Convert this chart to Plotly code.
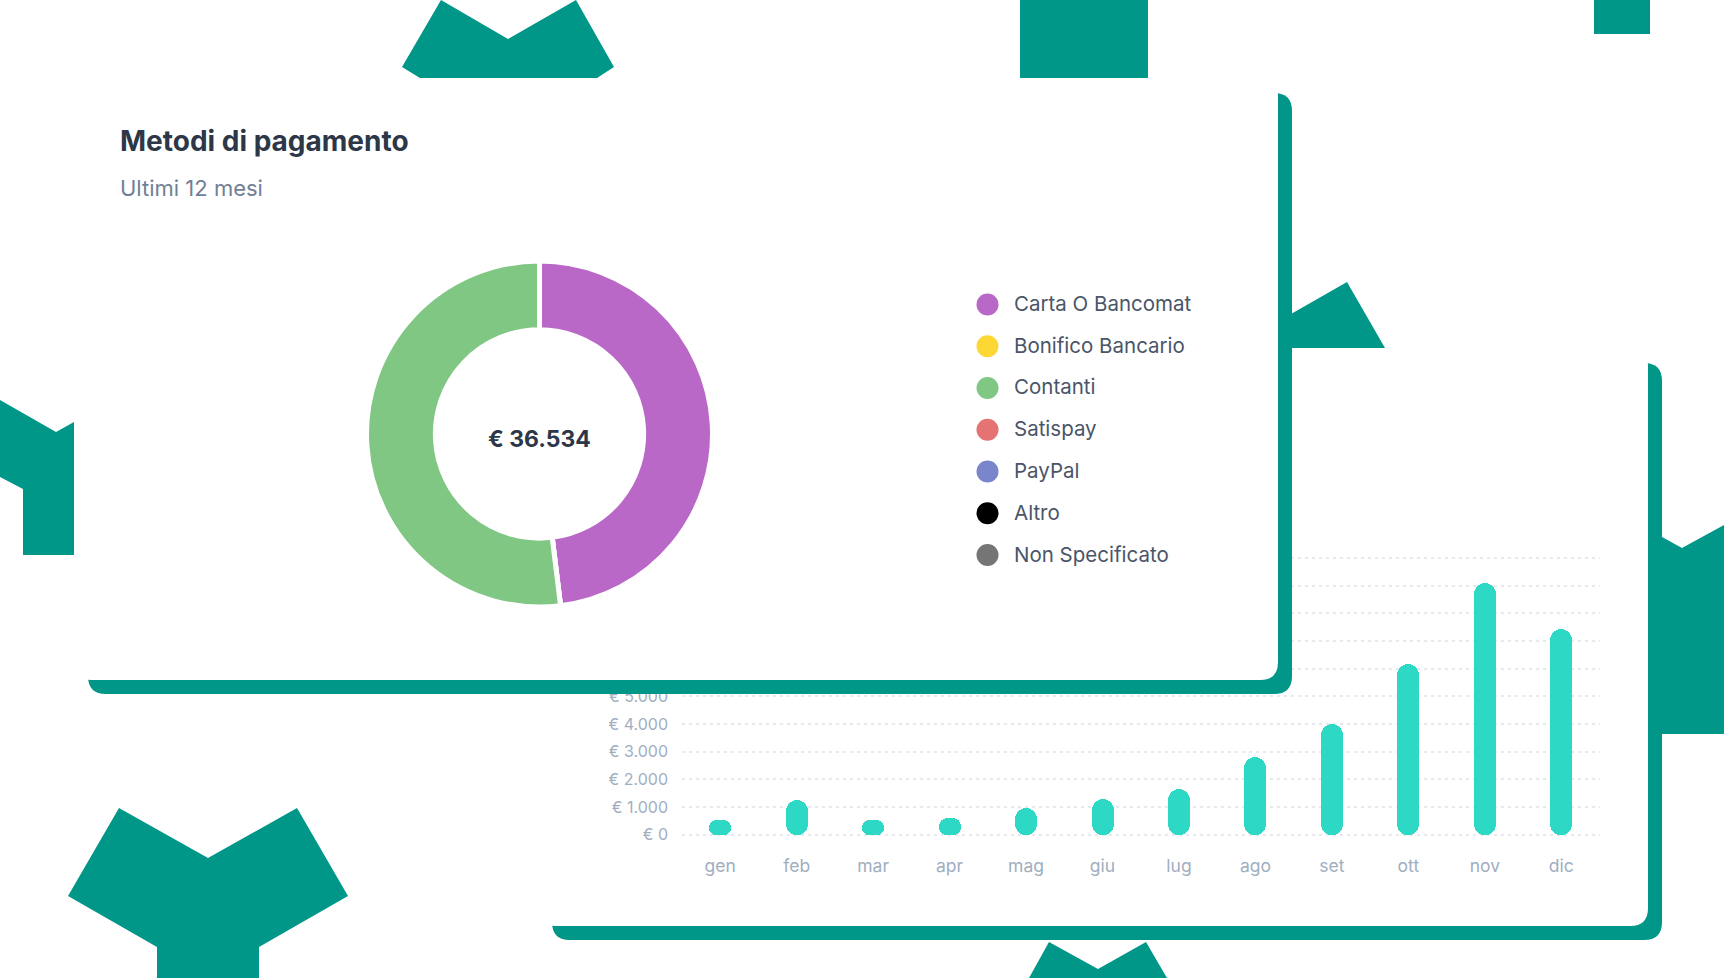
import plotly.graph_objects as go

W = 1724
H = 978
TEAL = "#009688"

# donut
methods = ["Carta O Bancomat", "Bonifico Bancario", "Contanti", "Satispay", "PayPal", "Altro", "Non Specificato"]
method_values = [17557, 0, 18977, 0, 0, 0, 0]
method_colors = ["#ba68c8", "#fdd835", "#81c784", "#e57373", "#7986cb", "#000000", "#757575"]

# monthly bars
months = ["gen", "feb", "mar", "apr", "mag", "giu", "lug", "ago", "set", "ott", "nov", "dic"]
month_values = [542, 1265, 518, 614, 952, 1289, 1639, 2807, 3976, 6157, 9072, 7434]
y_ticks = [0, 1000, 2000, 3000, 4000, 5000, 6000, 7000, 8000, 9000, 10000]
y_labels = ["€ 0", "€ 1.000", "€ 2.000", "€ 3.000", "€ 4.000", "€ 5.000", "€ 6.000", "€ 7.000", "€ 8.000", "€ 9.000", "€ 10.000"]

# teal decorations around the cards, in page pixels
decorations = [
    [(441, 0), (508, 39), (576, 0), (614, 67), (597, 78), (420, 78), (402, 67)],
    [(1020, 0), (1148, 0), (1148, 78), (1020, 78)],
    [(1594, 0), (1650, 0), (1650, 34), (1594, 34)],
    [(0, 400), (56, 432), (74, 422), (74, 555), (23, 555), (23, 489), (0, 477)],
    [(1291, 314), (1347, 282), (1385, 348), (1291, 348)],
    [(1662, 537), (1682, 548), (1724, 525), (1724, 734), (1662, 734)],
    [(119, 808), (208, 858), (297, 808), (348, 896), (259, 947), (259, 978), (157, 978), (157, 947), (68, 896)],
    [(1049, 942), (1098, 969), (1146, 942), (1167, 978), (1029, 978)],
]


def px_x(x):
    return x / W


def px_y(y):
    return 1 - y / H


def polygon(points):
    return "M" + " L".join(f"{px_x(x)},{px_y(y)}" for x, y in points) + " Z"


def rounded(x0, y0, x1, y1, r, fx=lambda v: v, fy=lambda v: v):
    return (f"M{fx(x0 + r)},{fy(y0)} L{fx(x1 - r)},{fy(y0)} Q{fx(x1)},{fy(y0)} {fx(x1)},{fy(y0 + r)} L{fx(x1)},{fy(y1 - r)} "
            f"Q{fx(x1)},{fy(y1)} {fx(x1 - r)},{fy(y1)} L{fx(x0 + r)},{fy(y1)} Q{fx(x0)},{fy(y1)} {fx(x0)},{fy(y1 - r)} "
            f"L{fx(x0)},{fy(y0 + r)} Q{fx(x0)},{fy(y0)} {fx(x0 + r)},{fy(y0)} Z")


fig = go.Figure()

# an explicit base makes plotly round both ends of a bar
fig.add_trace(go.Bar(
    x=months, y=month_values, base=[0] * len(months), width=0.288,
    marker=dict(color="#2dd9c5", line=dict(width=0), cornerradius=11),
    hoverinfo="skip",
))

# full page subplot that only holds the front card, it paints over the bar axis labels
fig.add_trace(go.Scatter(x=[0], y=[0], xaxis="x2", yaxis="y2", mode="markers", marker=dict(opacity=0), hoverinfo="skip"))

fig.add_trace(go.Pie(
    labels=methods, values=method_values, hole=0.602, sort=False, direction="clockwise", rotation=0,
    marker=dict(colors=method_colors, line=dict(color="white", width=5)),
    textinfo="none", hoverinfo="skip",
    domain=dict(x=[px_x(539.5 - 173), px_x(539.5 + 173)], y=[px_y(434 + 173), px_y(434 - 173)]),
))

fig.add_trace(go.Scatter(
    x=[0] * len(methods), y=methods, xaxis="x3", yaxis="y3", mode="markers",
    marker=dict(color=method_colors, size=22, line=dict(width=0)), hoverinfo="skip", cliponaxis=False,
))

# decorations and back card sit under everything
shapes = [dict(type="path", xref="paper", yref="paper", layer="below", fillcolor=TEAL, line_width=0, path=polygon(p)) for p in decorations]
shapes.append(dict(type="path", xref="paper", yref="paper", layer="below", fillcolor=TEAL, line_width=0,
                   path=rounded(552, 363, 1662, 940, 18, px_x, px_y)))
shapes.append(dict(type="path", xref="paper", yref="paper", layer="below", fillcolor="white", line_width=0,
                   path=rounded(538, 348, 1648, 926, 18, px_x, px_y)))
# front card sits over the bar chart axes
shapes.append(dict(type="path", xref="x2", yref="y2", layer="below", fillcolor=TEAL, line_width=0, path=rounded(88, 93, 1292, 694, 18)))
shapes.append(dict(type="path", xref="x2", yref="y2", layer="below", fillcolor="white", line_width=0, path=rounded(74, 78, 1278, 680, 18)))

annotations = [
    dict(text="<b>Metodi di pagamento</b>", x=px_x(118), y=px_y(141), xref="paper", yref="paper", xanchor="left", yanchor="middle",
         showarrow=False, font=dict(family="Inter", size=28, color="#2d3748")),
    dict(text="Ultimi 12 mesi", x=px_x(118), y=px_y(188), xref="paper", yref="paper", xanchor="left", yanchor="middle",
         showarrow=False, font=dict(family="Inter", size=22, color="#718096")),
    dict(text="<b>€ 36.534</b>", x=px_x(539), y=px_y(439), xref="paper", yref="paper", xanchor="center", yanchor="middle",
         showarrow=False, font=dict(family="Inter", size=23, color="#2d3748")),
]
for name in methods:
    annotations.append(dict(text=name, x=1, y=name, xref="x3", yref="y3", xanchor="left", yanchor="middle", showarrow=False,
                            yshift=1, font=dict(family="Inter", size=20.5, color="#4a5568")))

fig.update_layout(
    width=W, height=H, margin=dict(l=0, r=0, t=0, b=0, pad=0), autosize=False,
    paper_bgcolor="white", plot_bgcolor="rgba(0,0,0,0)", showlegend=False,
    barmode="overlay", bargap=0, shapes=shapes, annotations=annotations,
    xaxis=dict(domain=[px_x(682), px_x(1599.5)], anchor="y", type="category", categoryorder="array", categoryarray=months,
               range=[-0.5, 11.5], showgrid=False, zeroline=False, showline=False, ticks="", automargin=False,
               ticklabelstandoff=16, tickfont=dict(family="Inter", size=17.5, color="#a0aec0")),
    # the range runs a little past 0 and 10000 so the outer grid lines are drawn
    yaxis=dict(domain=[px_y(837.5), px_y(555.2)], anchor="x", range=[-100, 10100], tickvals=y_ticks, ticktext=y_labels,
               showgrid=True, gridcolor="#e6e9ee", gridwidth=1.5, griddash="3px 4px", zeroline=False, showline=False, ticks="", automargin=False,
               ticklabelstandoff=13, tickfont=dict(family="Inter", size=16, color="#a0aec0")),
    xaxis2=dict(domain=[0, 1], anchor="y2", range=[0, W], visible=False, fixedrange=True, automargin=False),
    yaxis2=dict(domain=[0, 1], anchor="x2", range=[H, 0], visible=False, fixedrange=True, automargin=False),
    xaxis3=dict(domain=[px_x(987.5), px_x(1012)], anchor="y3", range=[0, 1], visible=False, automargin=False),
    yaxis3=dict(domain=[px_y(575.9), px_y(283.6)], anchor="x3", type="category", categoryorder="array", categoryarray=methods,
                range=[6.5, -0.5], visible=False, automargin=False),
)

fig.write_html("out.html", config={"displayModeBar": False},
               post_script="document.body.style.margin='0';document.body.style.overflow='hidden';")
